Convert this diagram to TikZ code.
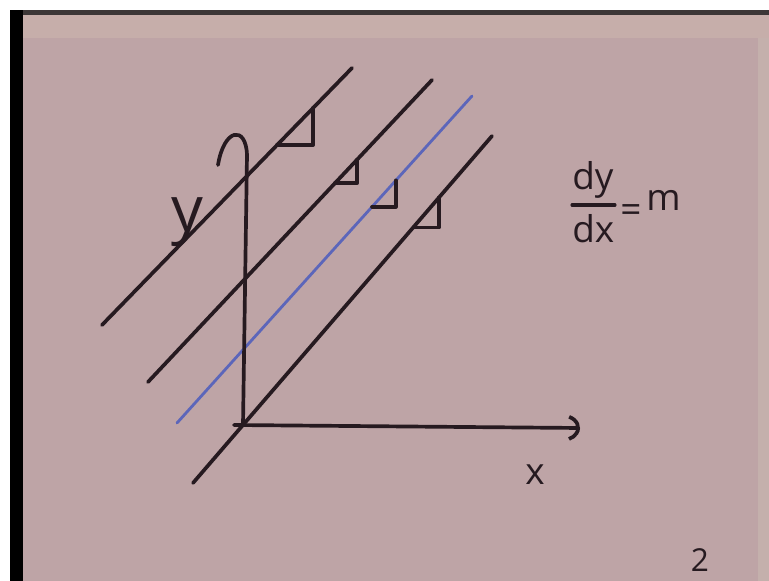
\documentclass[tikz,border=0pt]{standalone}
\usepackage{fontspec}
\setmainfont{Open Sans}
\usepackage{tikz}
\usetikzlibrary{positioning}
\usetikzlibrary{calc,arrows.meta}
\definecolor{ink}{RGB}{38,26,32}
\definecolor{inkblue}{RGB}{92,102,186}
\definecolor{paper}{RGB}{190,164,166}
\definecolor{paperlight}{RGB}{198,174,170}
\definecolor{paperedge}{RGB}{196,176,172}
\definecolor{frame}{RGB}{60,55,55}

\begin{document}
\begin{tikzpicture}[x=0.02cm,y=-0.02cm,
  pen/.style={line width=2.1pt,color=ink,line cap=round,line join=round},
  blue pen/.style={line width=1.6pt,color=inkblue,line cap=round},
  hand/.style={inner sep=0pt,text=ink,font=\fontsize{21}{25}\selectfont}]
\useasboundingbox (0,0) rectangle (769,581);
% sheet of paper
\fill[white] (0,0) rectangle (769,581);
\fill[paper] (23,14) rectangle (769,581);
\fill[paperlight] (23,14) rectangle (769,38);
\fill[paperedge] (758,38) rectangle (769,581);
\fill[black] (10,10) rectangle (23,581);
\fill[frame] (23,10) rectangle (769,15);

\coordinate (Abot) at (102,325);
\coordinate (Atop) at (352,68);
\coordinate (Bbot) at (148,382);
\coordinate (Btop) at (432,80);
\coordinate (Cbot) at (177,423);
\coordinate (Ctop) at (472,96);
\coordinate (Dbot) at (193,483);
\coordinate (Dtop) at (492,136);
\coordinate (O) at (243,425);
\coordinate (xstart) at (234,425);
\coordinate (xtip) at (580,428);
\coordinate (ybend) at (247,155);
\coordinate (yend) at (218,165);
\coordinate (barl) at (572,205);
\coordinate (barr) at (615,205);

% parallel lines
\draw[pen] (Abot) -- (Atop);
\draw[pen] (Bbot) -- (Btop);
\draw[blue pen] (Cbot) -- (Ctop);
\draw[pen] (Dbot) -- (Dtop);

% slope triangles
\foreach \l/\s/\e in {A/0.70/0.844, B/0.658/0.736, C/0.661/0.742, D/0.736/0.823}
  \draw[pen] ($(\l bot)!\s!(\l top)$) -| ($(\l bot)!\e!(\l top)$);

% axes
\draw[pen, -{Arc Barb[arc=130,length=10pt,width=16pt]}] (xstart) -- (xtip);
\draw[pen] (O) -- (ybend) .. controls (246,125) and (224,128) .. (yend);

\node[hand] at (535,475) (xlabel) {x};
\node[hand, font=\fontsize{36}{40}\selectfont] at (187,222) (ylabel) {y};

\node[hand, anchor=base west] at (572,190) (dy) {dy};
\node[hand, anchor=base west] at (572,243) (dx) {dx};
\draw[pen, line width=1.8pt] (barl) -- (barr);
\node[hand] at (631,214) (eq) {=};
\node[hand, anchor=base west] at (646,211) (m) {m};

\node[hand, font=\fontsize{18}{22}\selectfont, anchor=north] at (700,548) (page) {2};
\end{tikzpicture}
\end{document}
